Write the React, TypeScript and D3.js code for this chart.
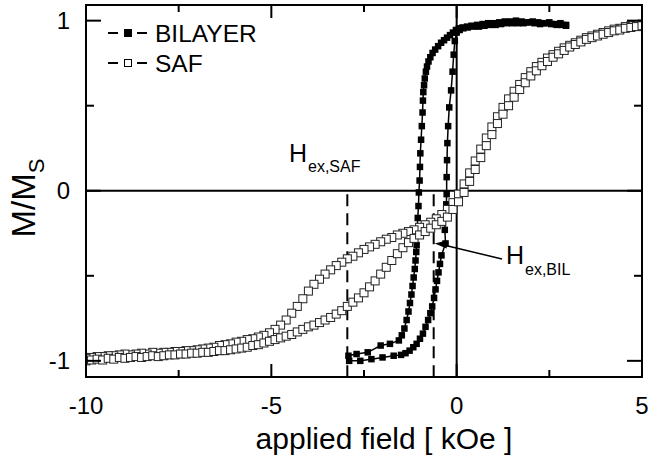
import React from "react";
import * as d3 from "d3";

type Pt = [number, number];

const bilayerDown: Pt[] = [
  [2.95, 0.975], [2.8, 0.985], [2.65, 0.98], [2.5, 0.99], [2.35, 0.985], [2.2, 0.99], [2.05, 0.995],
  [1.9, 0.99], [1.75, 0.995], [1.6, 1.0], [1.45, 0.995], [1.3, 0.995], [1.15, 0.99], [1.0, 0.985],
  [0.85, 0.985], [0.7, 0.98], [0.55, 0.975], [0.4, 0.97], [0.28, 0.965], [0.16, 0.96], [0.06, 0.955],
  [-0.02, 0.945], [-0.1, 0.93], [-0.18, 0.915], [-0.26, 0.9], [-0.34, 0.885], [-0.42, 0.87], [-0.5, 0.85],
  [-0.58, 0.83], [-0.65, 0.81], [-0.71, 0.785], [-0.76, 0.76], [-0.8, 0.73], [-0.83, 0.7], [-0.86, 0.66],
  [-0.88, 0.62], [-0.9, 0.58], [-0.91, 0.53], [-0.92, 0.46], [-0.94, 0.38], [-0.96, 0.3], [-0.98, 0.22],
  [-0.99, 0.14], [-1.0, 0.06], [-1.02, -0.01], [-1.03, -0.09], [-1.05, -0.16], [-1.07, -0.24], [-1.08, -0.32],
  [-1.09, -0.36], [-1.11, -0.41], [-1.13, -0.46], [-1.16, -0.51], [-1.19, -0.56], [-1.22, -0.61],
  [-1.26, -0.66], [-1.3, -0.71], [-1.35, -0.76], [-1.41, -0.81], [-1.48, -0.85], [-1.56, -0.88],
  [-1.8, -0.9], [-2.05, -0.91], [-2.4, -0.95], [-2.7, -0.96], [-2.92, -0.97],
];

const bilayerUp: Pt[] = [
  [-2.9, -1.0], [-2.6, -1.0], [-2.3, -0.99], [-2.0, -0.98], [-1.7, -0.97], [-1.5, -0.965], [-1.38, -0.955],
  [-1.27, -0.94], [-1.17, -0.92], [-1.08, -0.9], [-0.99, -0.87], [-0.91, -0.84], [-0.84, -0.8],
  [-0.77, -0.76], [-0.71, -0.72], [-0.66, -0.68], [-0.61, -0.63], [-0.57, -0.58], [-0.53, -0.53],
  [-0.49, -0.48], [-0.45, -0.43], [-0.41, -0.38], [-0.3, -0.31], [-0.32, -0.23], [-0.3, -0.15],
  [-0.28, -0.08], [-0.27, -0.02], [-0.27, 0.08], [-0.26, 0.18], [-0.25, 0.28], [-0.23, 0.38],
  [-0.2, 0.49], [-0.15, 0.59], [-0.11, 0.7], [-0.08, 0.8], [-0.05, 0.88], [0.0, 0.93], [0.08, 0.945],
  [0.18, 0.955], [0.3, 0.96], [0.45, 0.965], [0.6, 0.965], [0.75, 0.97], [0.9, 0.975], [1.05, 0.975],
  [1.2, 0.98], [1.35, 0.985], [1.5, 0.985], [1.65, 0.985], [1.8, 0.985], [1.95, 0.99], [2.1, 0.985],
  [2.25, 0.98], [2.4, 0.985], [2.55, 0.98], [2.7, 0.975], [2.85, 0.975], [2.95, 0.97],
];

const safDown: Pt[] = [
  [5.0, 0.98], [4.85, 0.975], [4.7, 0.97], [4.55, 0.965], [4.4, 0.955], [4.25, 0.95], [4.1, 0.94],
  [3.95, 0.93], [3.8, 0.92], [3.65, 0.91], [3.5, 0.9], [3.35, 0.885], [3.2, 0.87], [3.05, 0.855],
  [2.9, 0.84], [2.75, 0.82], [2.6, 0.8], [2.45, 0.78], [2.3, 0.755], [2.15, 0.73], [2.0, 0.7],
  [1.85, 0.665], [1.7, 0.625], [1.55, 0.585], [1.4, 0.54], [1.25, 0.49], [1.1, 0.435], [0.95, 0.375],
  [0.8, 0.31], [0.65, 0.245], [0.5, 0.175], [0.35, 0.105], [0.2, 0.04], [0.05, -0.02], [-0.1, -0.07],
  [-0.25, -0.11], [-0.4, -0.14], [-0.55, -0.165], [-0.7, -0.185], [-0.85, -0.2], [-1.0, -0.215],
  [-1.15, -0.23], [-1.3, -0.24], [-1.45, -0.25], [-1.6, -0.26], [-1.75, -0.275], [-1.9, -0.285],
  [-2.05, -0.3], [-2.2, -0.315], [-2.35, -0.33], [-2.5, -0.345], [-2.65, -0.365], [-2.8, -0.385],
  [-2.95, -0.4], [-3.1, -0.42], [-3.25, -0.44], [-3.4, -0.465], [-3.55, -0.49], [-3.7, -0.52],
  [-3.85, -0.55], [-4.0, -0.59], [-4.15, -0.635], [-4.3, -0.68], [-4.45, -0.72], [-4.6, -0.76],
  [-4.75, -0.79], [-4.9, -0.815], [-5.05, -0.835], [-5.2, -0.85], [-5.35, -0.86], [-5.5, -0.87],
  [-5.65, -0.875], [-5.8, -0.885], [-5.95, -0.89], [-6.1, -0.9], [-6.25, -0.905], [-6.4, -0.91],
  [-6.55, -0.92], [-6.7, -0.925], [-6.85, -0.93], [-7.0, -0.935], [-7.15, -0.94], [-7.3, -0.94],
  [-7.45, -0.945], [-7.6, -0.945], [-7.75, -0.95], [-7.9, -0.95], [-8.05, -0.955], [-8.2, -0.95],
  [-8.35, -0.96], [-8.5, -0.955], [-8.65, -0.96], [-8.8, -0.965], [-8.95, -0.96], [-9.1, -0.965],
  [-9.25, -0.97], [-9.4, -0.97], [-9.55, -0.975], [-9.7, -0.975], [-9.85, -0.98], [-10.0, -0.985],
];

const safUp: Pt[] = [
  [-10.0, -1.0], [-9.85, -0.995], [-9.7, -0.99], [-9.55, -0.995], [-9.4, -0.985], [-9.25, -0.99],
  [-9.1, -0.98], [-8.95, -0.985], [-8.8, -0.98], [-8.65, -0.975], [-8.5, -0.98], [-8.35, -0.975],
  [-8.2, -0.97], [-8.05, -0.975], [-7.9, -0.97], [-7.75, -0.965], [-7.6, -0.965], [-7.45, -0.96],
  [-7.3, -0.96], [-7.15, -0.955], [-7.0, -0.955], [-6.85, -0.95], [-6.7, -0.95], [-6.55, -0.945],
  [-6.4, -0.94], [-6.25, -0.94], [-6.1, -0.935], [-5.95, -0.93], [-5.8, -0.925], [-5.65, -0.92],
  [-5.5, -0.91], [-5.35, -0.905], [-5.2, -0.895], [-5.05, -0.885], [-4.9, -0.875], [-4.75, -0.865],
  [-4.6, -0.855], [-4.45, -0.845], [-4.3, -0.83], [-4.15, -0.815], [-4.0, -0.8], [-3.85, -0.79],
  [-3.7, -0.775], [-3.55, -0.76], [-3.4, -0.745], [-3.25, -0.725], [-3.1, -0.705], [-2.95, -0.68],
  [-2.8, -0.655], [-2.65, -0.63], [-2.5, -0.6], [-2.35, -0.565], [-2.2, -0.53], [-2.05, -0.49],
  [-1.9, -0.45], [-1.75, -0.41], [-1.6, -0.37], [-1.45, -0.335], [-1.3, -0.305], [-1.15, -0.28],
  [-1.0, -0.26], [-0.85, -0.24], [-0.7, -0.22], [-0.55, -0.2], [-0.4, -0.18], [-0.25, -0.155],
  [-0.1, -0.11], [0.05, -0.065], [0.2, -0.01], [0.35, 0.055], [0.5, 0.125], [0.65, 0.195],
  [0.8, 0.265], [0.95, 0.33], [1.1, 0.395], [1.25, 0.45], [1.4, 0.5], [1.55, 0.55], [1.7, 0.595],
  [1.85, 0.635], [2.0, 0.675], [2.15, 0.705], [2.3, 0.735], [2.45, 0.76], [2.6, 0.785], [2.75, 0.805],
  [2.9, 0.825], [3.05, 0.845], [3.2, 0.86], [3.35, 0.875], [3.5, 0.89], [3.65, 0.9], [3.8, 0.91],
  [3.95, 0.92], [4.1, 0.93], [4.25, 0.94], [4.4, 0.945], [4.55, 0.955], [4.7, 0.96], [4.85, 0.965],
  [5.0, 0.97],
];

const xMajorTicks = [-10, -5, 0, 5];
const xMinorTicks = [-7.5, -2.5, 2.5];
const yMajorTicks = [-1, 0, 1];
const yMinorTicks = [-0.5, 0.5];
const hexSafField = -2.95;
const hexBilField = -0.62;
const hexBilArrowM = -0.31;
const legendLabels = ["BILAYER", "SAF"];

const FONT = "'Liberation Sans', Arial, Helvetica, sans-serif";

export default function App() {
  const W = 650;
  const H = 462;
  const x = d3.scaleLinear().domain([-10, 5]).range([86, 642]);
  const y = d3.scaleLinear().domain([-1.095, 1.092]).range([377, 5]);
  const [x0, x1] = x.range();
  const [y0, y1] = y.range(); // y0 bottom, y1 top
  const line = d3.line<Pt>().x((d) => x(d[0])).y((d) => y(d[1]));

  const bilSize = 6.5;
  const safSize = 8;
  const majLen = 13;
  const minLen = 7;
  const yMajLen = 15;
  const yMinLen = 8;

  const arrowTipX = x(hexBilField) + 1;
  const arrowTipY = y(hexBilArrowM);

  return (
    <svg
      width={W}
      height={H}
      viewBox={`0 0 ${W} ${H}`}
      style={{ position: "absolute", left: 0, top: 0, background: "#fff" }}
      fontFamily={FONT}
    >
      <defs>
        <clipPath id="plotClip">
          <rect x={x0} y={y1} width={x1 - x0} height={y0 - y1} />
        </clipPath>
      </defs>
      <rect x={0} y={0} width={W} height={H} fill="#fff" />

      {/* zero lines */}
      <line x1={x0} x2={x1} y1={y(0)} y2={y(0)} stroke="#000" strokeWidth={2} />
      <line x1={x(0)} x2={x(0)} y1={y1} y2={y0} stroke="#000" strokeWidth={2} />

      {/* exchange-bias dashed markers */}
      <line x1={x(hexSafField)} x2={x(hexSafField)} y1={y(-0.02)} y2={y0} stroke="#000" strokeWidth={2} strokeDasharray="12,7" />
      <line x1={x(hexBilField)} x2={x(hexBilField)} y1={y(-0.02)} y2={y0} stroke="#000" strokeWidth={2} strokeDasharray="12,7" />

      <g clipPath="url(#plotClip)">
        {/* BILAYER */}
        {[bilayerDown, bilayerUp].map((br, i) => (
          <path key={`bl${i}`} d={line(br) || ""} fill="none" stroke="#000" strokeWidth={1.5} />
        ))}
        {[...bilayerDown, ...bilayerUp].map((d, i) => (
          <rect key={`bs${i}`} x={x(d[0]) - bilSize / 2} y={y(d[1]) - bilSize / 2} width={bilSize} height={bilSize} fill="#000" />
        ))}
        {/* SAF */}
        {[safDown, safUp].map((br, i) => (
          <path key={`sl${i}`} d={line(br) || ""} fill="none" stroke="#000" strokeWidth={1} />
        ))}
        {[...safDown, ...safUp].map((d, i) => (
          <rect key={`ss${i}`} x={x(d[0]) - safSize / 2} y={y(d[1]) - safSize / 2} width={safSize} height={safSize} fill="#fff" stroke="#222" strokeWidth={1} />
        ))}
      </g>

      {/* frame */}
      <rect x={x0} y={y1} width={x1 - x0} height={y0 - y1} fill="none" stroke="#000" strokeWidth={2} />

      {/* x ticks */}
      {xMajorTicks.map((t) => (
        <g key={`xM${t}`}>
          <line x1={x(t)} x2={x(t)} y1={y0} y2={y0 - majLen} stroke="#000" strokeWidth={2} />
          <line x1={x(t)} x2={x(t)} y1={y1} y2={y1 + majLen} stroke="#000" strokeWidth={2} />
          <text x={x(t)} y={414} fontSize={24} textAnchor="middle" fill="#000">{t}</text>
        </g>
      ))}
      {xMinorTicks.map((t) => (
        <g key={`xm${t}`}>
          <line x1={x(t)} x2={x(t)} y1={y0} y2={y0 - minLen} stroke="#000" strokeWidth={2} />
          <line x1={x(t)} x2={x(t)} y1={y1} y2={y1 + minLen} stroke="#000" strokeWidth={2} />
        </g>
      ))}
      {/* y ticks */}
      {yMajorTicks.map((t) => (
        <g key={`yM${t}`}>
          <line x1={x0} x2={x0 + yMajLen} y1={y(t)} y2={y(t)} stroke="#000" strokeWidth={2} />
          <line x1={x1} x2={x1 - yMajLen} y1={y(t)} y2={y(t)} stroke="#000" strokeWidth={2} />
          <text x={70} y={y(t) + 8.5} fontSize={24} textAnchor="end" fill="#000">{t}</text>
        </g>
      ))}
      {yMinorTicks.map((t) => (
        <g key={`ym${t}`}>
          <line x1={x0} x2={x0 + yMinLen} y1={y(t)} y2={y(t)} stroke="#000" strokeWidth={2} />
          <line x1={x1} x2={x1 - yMinLen} y1={y(t)} y2={y(t)} stroke="#000" strokeWidth={2} />
        </g>
      ))}

      {/* axis titles */}
      <text x={384} y={449} fontSize={30} textAnchor="middle" fill="#000">applied field [ kOe ]</text>
      <text transform="translate(35,198) rotate(-90)" fontSize={33} textAnchor="middle" fill="#000">
        M/M<tspan fontSize={22} dy={9}>S</tspan>
      </text>

      {/* legend */}
      {legendLabels.map((lab, i) => {
        const cy = 33 + i * 30;
        return (
          <g key={lab}>
            <line x1={108} x2={118} y1={cy} y2={cy} stroke="#000" strokeWidth={2} />
            <line x1={137} x2={147} y1={cy} y2={cy} stroke="#000" strokeWidth={2} />
            {i === 0 ? (
              <rect x={128 - 4} y={cy - 4} width={8} height={8} fill="#000" />
            ) : (
              <rect x={128 - 3.5} y={cy - 3.5} width={7} height={7} fill="#fff" stroke="#000" strokeWidth={1} />
            )}
            <text x={155} y={cy + 9} fontSize={24.5} fill="#000">{lab}</text>
          </g>
        );
      })}

      {/* annotations */}
      <text x={289} y={162} fontSize={25} fill="#000">H</text>
      <text x={308} y={172} fontSize={16} fill="#000">ex,SAF</text>

      <line x1={502} y1={259} x2={arrowTipX + 9} y2={arrowTipY + 1.5} stroke="#000" strokeWidth={1.5} />
      <path
        d={`M${arrowTipX},${arrowTipY} L${arrowTipX + 12},${arrowTipY - 3} L${arrowTipX + 12},${arrowTipY + 5} Z`}
        fill="#000"
      />
      <text x={506} y={264} fontSize={25} fill="#000">H</text>
      <text x={525} y={275} fontSize={16} fill="#000">ex,BIL</text>
    </svg>
  );
}
